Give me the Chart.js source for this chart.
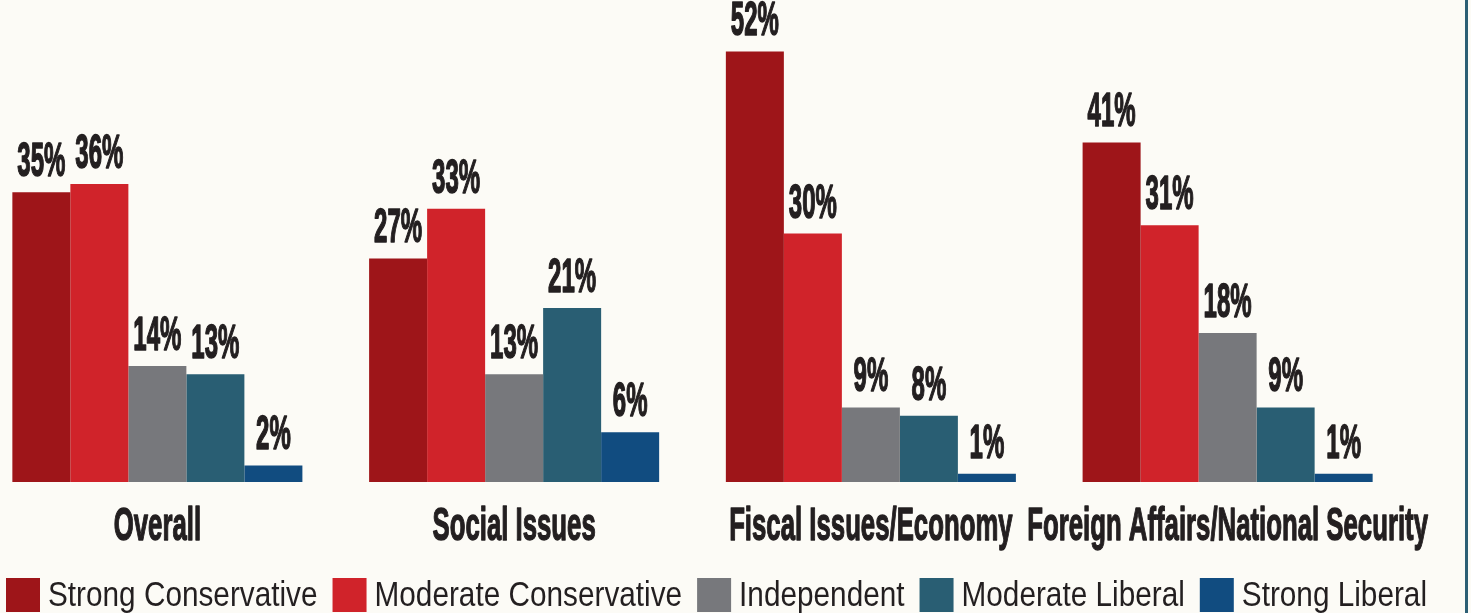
<!DOCTYPE html>
<html>
<head>
<meta charset="utf-8">
<script src="https://cdn.jsdelivr.net/npm/chart.js@4/dist/chart.umd.min.js"></script>
<style>
  html, body { margin: 0; padding: 0; background: #fcfbf6; overflow: hidden; }
  #page { position: relative; width: 1465px; height: 620px; border-right: 3px solid #2c5f75; overflow: hidden; }
  /* plot is shifted left so the groups sit slightly off an even split */
  #wrap { position: absolute; left: -21px; top: 0; width: 1486px; height: 620px; }
</style>
</head>
<body>
<div id="page"><div id="wrap"><canvas id="views-chart"></canvas></div></div>
<script>
// Ideology breakdown per issue area, percent of respondents
var categories = ['Overall', 'Social Issues', 'Fiscal Issues/Economy', 'Foreign Affairs/National Security'];
var seriesNames = ['Strong Conservative', 'Moderate Conservative', 'Independent', 'Moderate Liberal', 'Strong Liberal'];
var strongConservative = [35, 27, 52, 41];
var moderateConservative = [36, 33, 30, 31];
var independent = [14, 13, 9, 18];
var moderateLiberal = [13, 21, 8, 9];
var strongLiberal = [2, 6, 1, 1];
var seriesColors = ['#9e1519', '#d0232a', '#77787c', '#295e73', '#114c80'];

var INK = '#231f20';
var FACE = '"Liberation Sans", Arial, sans-serif';
var SHIFT = 21;

// canvas has no narrow face installed, so squeeze a regular one horizontally
function squeezedText(ctx, text, x, y, font, squeeze, align, heavy) {
  ctx.save();
  ctx.font = font;
  ctx.fillStyle = INK;
  ctx.strokeStyle = INK;
  ctx.lineJoin = 'round';
  ctx.textAlign = align || 'center';
  ctx.textBaseline = 'alphabetic';
  ctx.translate(x, y);
  ctx.scale(squeeze, 1);
  ctx.fillText(text, 0, 0);
  if (heavy) {
    ctx.lineWidth = heavy;
    ctx.strokeText(text, 0, 0);
  }
  var w = ctx.measureText(text).width * squeeze;
  ctx.restore();
  return w;
}

var labelsPlugin = {
  id: 'barLabels',
  afterDatasetsDraw: function (chart) {
    var ctx = chart.ctx;
    chart.data.datasets.forEach(function (ds, di) {
      var meta = chart.getDatasetMeta(di);
      meta.data.forEach(function (bar, i) {
        squeezedText(ctx, ds.data[i] + '%', bar.x, bar.y - 16, 'bold 48px ' + FACE, 0.5, 'center', 1.6);
      });
    });
    // category names under each group
    var xs = chart.scales.x;
    categories.forEach(function (c, i) {
      squeezedText(ctx, c, xs.getPixelForValue(i), chart.chartArea.bottom + 58, 'bold 46px ' + FACE, 0.56, 'center', 1.4);
    });

    // legend row along the bottom edge
    var x = SHIFT + 6, top = chart.chartArea.bottom + 96;
    chart.data.datasets.forEach(function (ds) {
      ctx.fillStyle = ds.backgroundColor;
      ctx.fillRect(x, top, 34, 34);
      x += 34 + 8;
      x += squeezedText(ctx, ds.label, x, top + 28, '35px ' + FACE, 0.85, 'left');
      x += 15;
    });
  }
};

var datasets = [strongConservative, moderateConservative, independent, moderateLiberal, strongLiberal].map(function (vals, i) {
  return {
    label: seriesNames[i],
    data: vals,
    backgroundColor: seriesColors[i],
    borderWidth: 0,
    barPercentage: 1,
    categoryPercentage: 0.813
  };
});

new Chart(document.getElementById('views-chart'), {
  type: 'bar',
  data: { labels: categories, datasets: datasets },
  options: {
    responsive: true,
    maintainAspectRatio: false,
    animation: false,
    layout: { padding: { top: 10, right: 59, left: 0, bottom: 50 } },
    plugins: {
      tooltip: { enabled: false },
      legend: { display: false }
    },
    scales: {
      x: {
        grid: { display: false },
        border: { display: false },
        ticks: { display: false },
        afterFit: function (s) { s.height = 88; }
      },
      y: {
        display: false,
        min: 0,
        max: 57
      }
    }
  },
  plugins: [labelsPlugin]
});
</script>
</body>
</html>
